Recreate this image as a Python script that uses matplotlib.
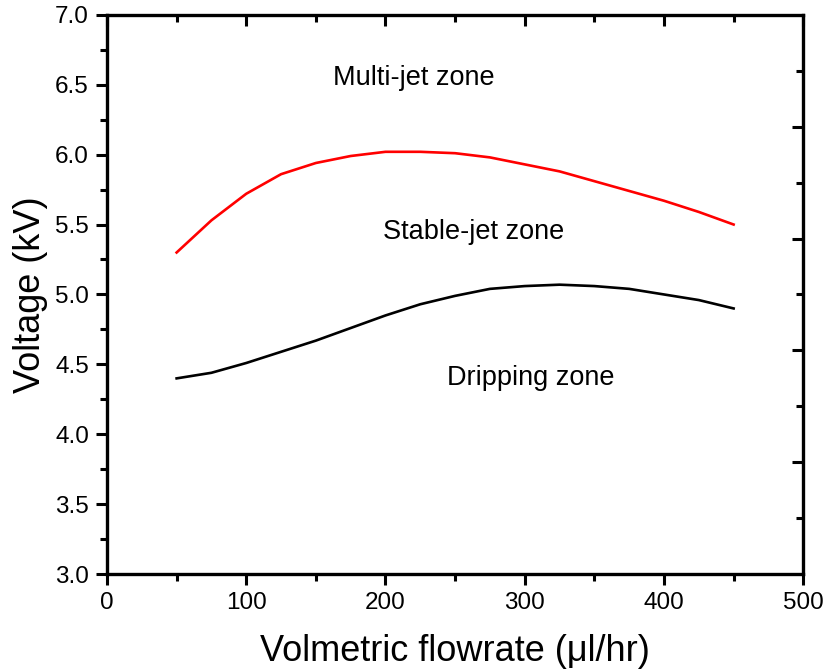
import matplotlib
matplotlib.use("Agg")
import matplotlib.pyplot as plt
from matplotlib.ticker import MultipleLocator, FixedLocator

plt.rcParams['font.family'] = ['Liberation Sans', 'DejaVu Sans']

flow = [50, 75, 100, 125, 150, 175, 200, 225, 250, 275, 300, 325, 350, 375, 400, 425, 450]
multi_jet_onset = [5.30, 5.53, 5.72, 5.86, 5.94, 5.99, 6.02, 6.02, 6.01, 5.98, 5.93, 5.88, 5.81, 5.74, 5.67, 5.59, 5.50]
stable_jet_onset = [4.40, 4.44, 4.51, 4.59, 4.67, 4.76, 4.85, 4.93, 4.99, 5.04, 5.06, 5.07, 5.06, 5.04, 5.00, 4.96, 4.90]

zone_labels = ["Multi-jet zone", "Stable-jet zone", "Dripping zone"]
zone_x = [220, 263, 304]
zone_y = [6.55, 5.45, 4.40]

fig = plt.figure(figsize=(8.23, 6.70), dpi=100)
ax = fig.add_axes([0.130, 0.143, 0.846, 0.835])

ax.plot(flow, multi_jet_onset, color='#ff0000', lw=1.9, solid_joinstyle='round')
ax.plot(flow, stable_jet_onset, color='black', lw=1.9, solid_joinstyle='round')

for t, x, y in zip(zone_labels, zone_x, zone_y):
    ax.text(x, y, t, ha='center', va='center', fontsize=19.5)

ax.set_xlim(0, 500)
ax.set_ylim(3.0, 7.0)
ax.xaxis.set_major_locator(MultipleLocator(100))
ax.xaxis.set_minor_locator(MultipleLocator(50))
ax.yaxis.set_major_locator(MultipleLocator(0.5))
ax.yaxis.set_minor_locator(MultipleLocator(0.25))
ax.yaxis.set_major_formatter(matplotlib.ticker.FormatStrFormatter('%.1f'))

ax.tick_params(which='both', direction='out', width=2.2, labelsize=17.5, top=True, right=False)
ax.tick_params(which='major', length=8, pad=5)
ax.tick_params(which='minor', length=5)
for t in ax.xaxis.get_major_ticks() + ax.xaxis.get_minor_ticks():
    t.tick2line.set_marker(3)  # inward on top
ax.tick_params(axis='x', which='both', top=True)

for s in ax.spines.values():
    s.set_linewidth(2.4)

ax.set_xlabel('Volmetric flowrate (\u03bcl/hr)', fontsize=26, labelpad=14)
ax.set_ylabel('Voltage (kV)', fontsize=26, labelpad=5)

ax2 = ax.twinx()
ax2.set_ylim(3.0, 7.0)
ax2.yaxis.set_major_locator(FixedLocator([3.8, 4.6, 5.4, 6.2]))
ax2.yaxis.set_minor_locator(FixedLocator([3.4, 4.2, 5.0, 5.8, 6.6]))
ax2.tick_params(which='both', direction='in', width=2.2, labelright=False)
ax2.tick_params(which='major', length=8)
ax2.tick_params(which='minor', length=5)
for s in ax2.spines.values():
    s.set_visible(False)

fig.savefig('out.png', dpi=100)
